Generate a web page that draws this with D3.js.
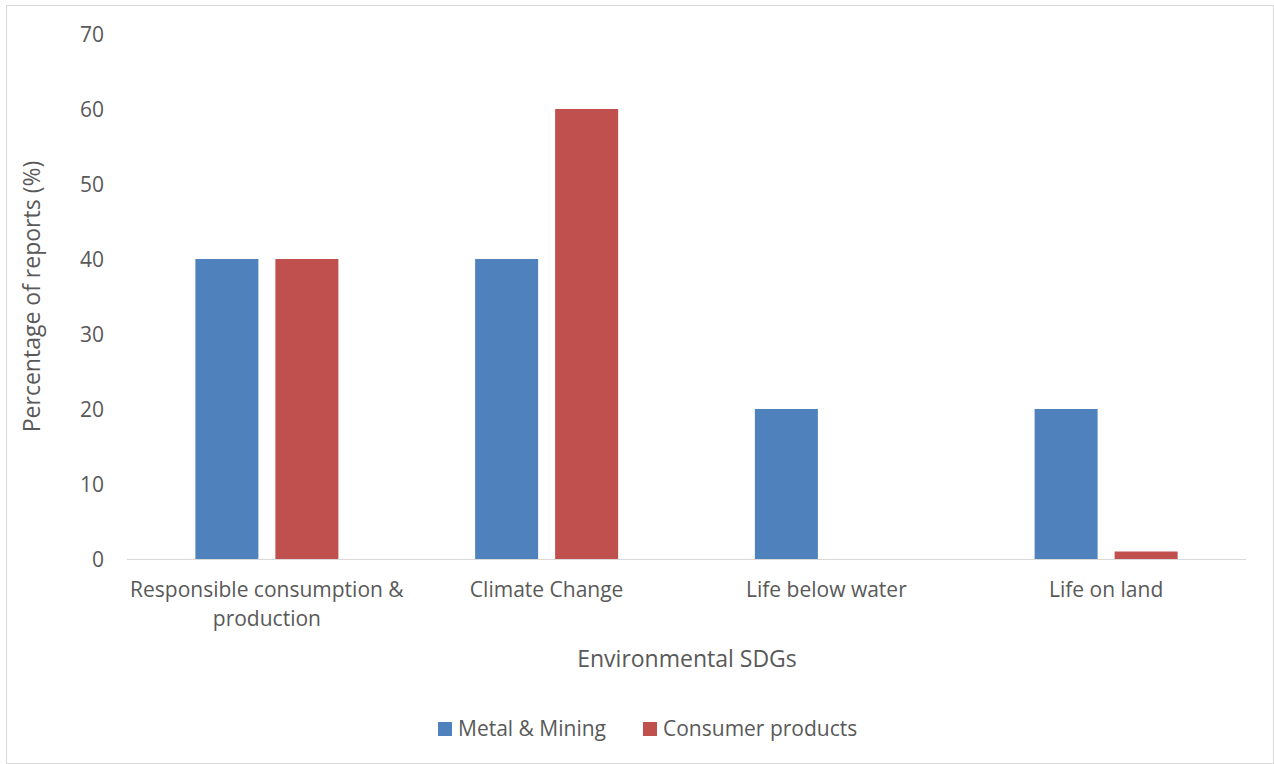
<!DOCTYPE html>
<html>
<head>
<meta charset="utf-8">
<script src="https://cdn.jsdelivr.net/npm/d3@7"></script>
<style>
  html, body { margin: 0; padding: 0; background: #fff; }
  svg text { font-family: "Open Sans", "Noto Sans", sans-serif; fill: #595959; }
</style>
</head>
<body>
<svg id="chart" width="1274" height="764"></svg>
<script>
// Share of reports mentioning each environmental SDG, by sector
const categories = [["Responsible consumption &", "production"], ["Climate Change"], ["Life below water"], ["Life on land"]];
const seriesNames = ["Metal & Mining", "Consumer products"];
const metalMining = [40, 40, 20, 20];
const consumerProducts = [40, 60, 0, 1];
const yTicks = [0, 10, 20, 30, 40, 50, 60, 70];
const colors = ["#4f81bd", "#c0504d"];

const svg = d3.select("#chart");
const W = 1274, H = 764;

// outer chart frame
svg.append("rect").attr("x", 6.5).attr("y", 5.5).attr("width", W - 7).attr("height", H - 6)
  .attr("fill", "#fff").attr("stroke", "#d9d9d9").attr("stroke-width", 1);

const plot = { left: 127, right: 1246, top: 34, bottom: 559 };

const x = d3.scaleBand().domain(d3.range(categories.length))
  .range([plot.left, plot.right]).paddingInner(0).paddingOuter(0);
// two bars per group, 63px wide with a 17px gap, centred in the band
const groupWidth = 143;
const groupOffset = (x.bandwidth() - groupWidth) / 2;
const x1 = d3.scaleBand().domain(d3.range(seriesNames.length))
  .range([groupOffset, groupOffset + groupWidth]).paddingInner(17 / 80).paddingOuter(0);
const y = d3.scaleLinear().domain([0, 70]).range([plot.bottom, plot.top]);

const series = [metalMining, consumerProducts];

// bars
const groups = svg.append("g").selectAll("g").data(categories).join("g")
  .attr("transform", (d, i) => `translate(${x(i)},0)`);
groups.selectAll("rect")
  .data((d, i) => series.map((s, k) => ({ k, v: s[i] })))
  .join("rect")
  .attr("x", d => x1(d.k))
  .attr("width", x1.bandwidth())
  .attr("y", d => y(d.v))
  .attr("height", d => y(0) - y(d.v))
  .attr("fill", d => colors[d.k]);

// baseline
svg.append("line").attr("x1", plot.left).attr("x2", plot.right)
  .attr("y1", y(0) + 0.5).attr("y2", y(0) + 0.5)
  .attr("stroke", "#d9d9d9").attr("stroke-width", 1);

// y axis tick labels
const yAxis = d3.axisLeft(y).tickValues(yTicks).tickSize(0).tickPadding(0);
const gy = svg.append("g").attr("transform", `translate(104,0)`).call(yAxis);
gy.select(".domain").remove();
gy.selectAll("text").attr("font-size", 21).attr("dy", "0.35em")
  .style("font-family", "'Open Sans', sans-serif").attr("fill", "#595959");

// category labels
const xl = svg.append("g");
categories.forEach((lines, i) => {
  const t = xl.append("text").attr("text-anchor", "middle")
    .attr("font-size", 21)
    .attr("x", x(i) + x.bandwidth() / 2).attr("y", 597);
  lines.forEach((ln, j) => t.append("tspan").attr("x", x(i) + x.bandwidth() / 2)
    .attr("dy", j === 0 ? 0 : 29).text(ln));
});

// axis titles
svg.append("text").attr("text-anchor", "middle").attr("font-size", 23)
  .attr("x", 687).attr("y", 667).text("Environmental SDGs");
svg.append("text").attr("text-anchor", "middle").attr("font-size", 23)
  .attr("transform", `translate(32,${(plot.top + plot.bottom) / 2}) rotate(-90)`)
  .attr("dy", "0.35em").text("Percentage of reports (%)");

// legend
const legendItems = [
  { name: seriesNames[0], color: colors[0], x: 438 },
  { name: seriesNames[1], color: colors[1], x: 643 }
];
const lg = svg.append("g");
legendItems.forEach(it => {
  lg.append("rect").attr("x", it.x).attr("y", 722).attr("width", 14).attr("height", 14).attr("fill", it.color);
  lg.append("text").attr("x", it.x + 20).attr("y", 729).attr("dy", "0.35em")
    .attr("font-size", 21).text(it.name);
});
</script>
</body>
</html>
